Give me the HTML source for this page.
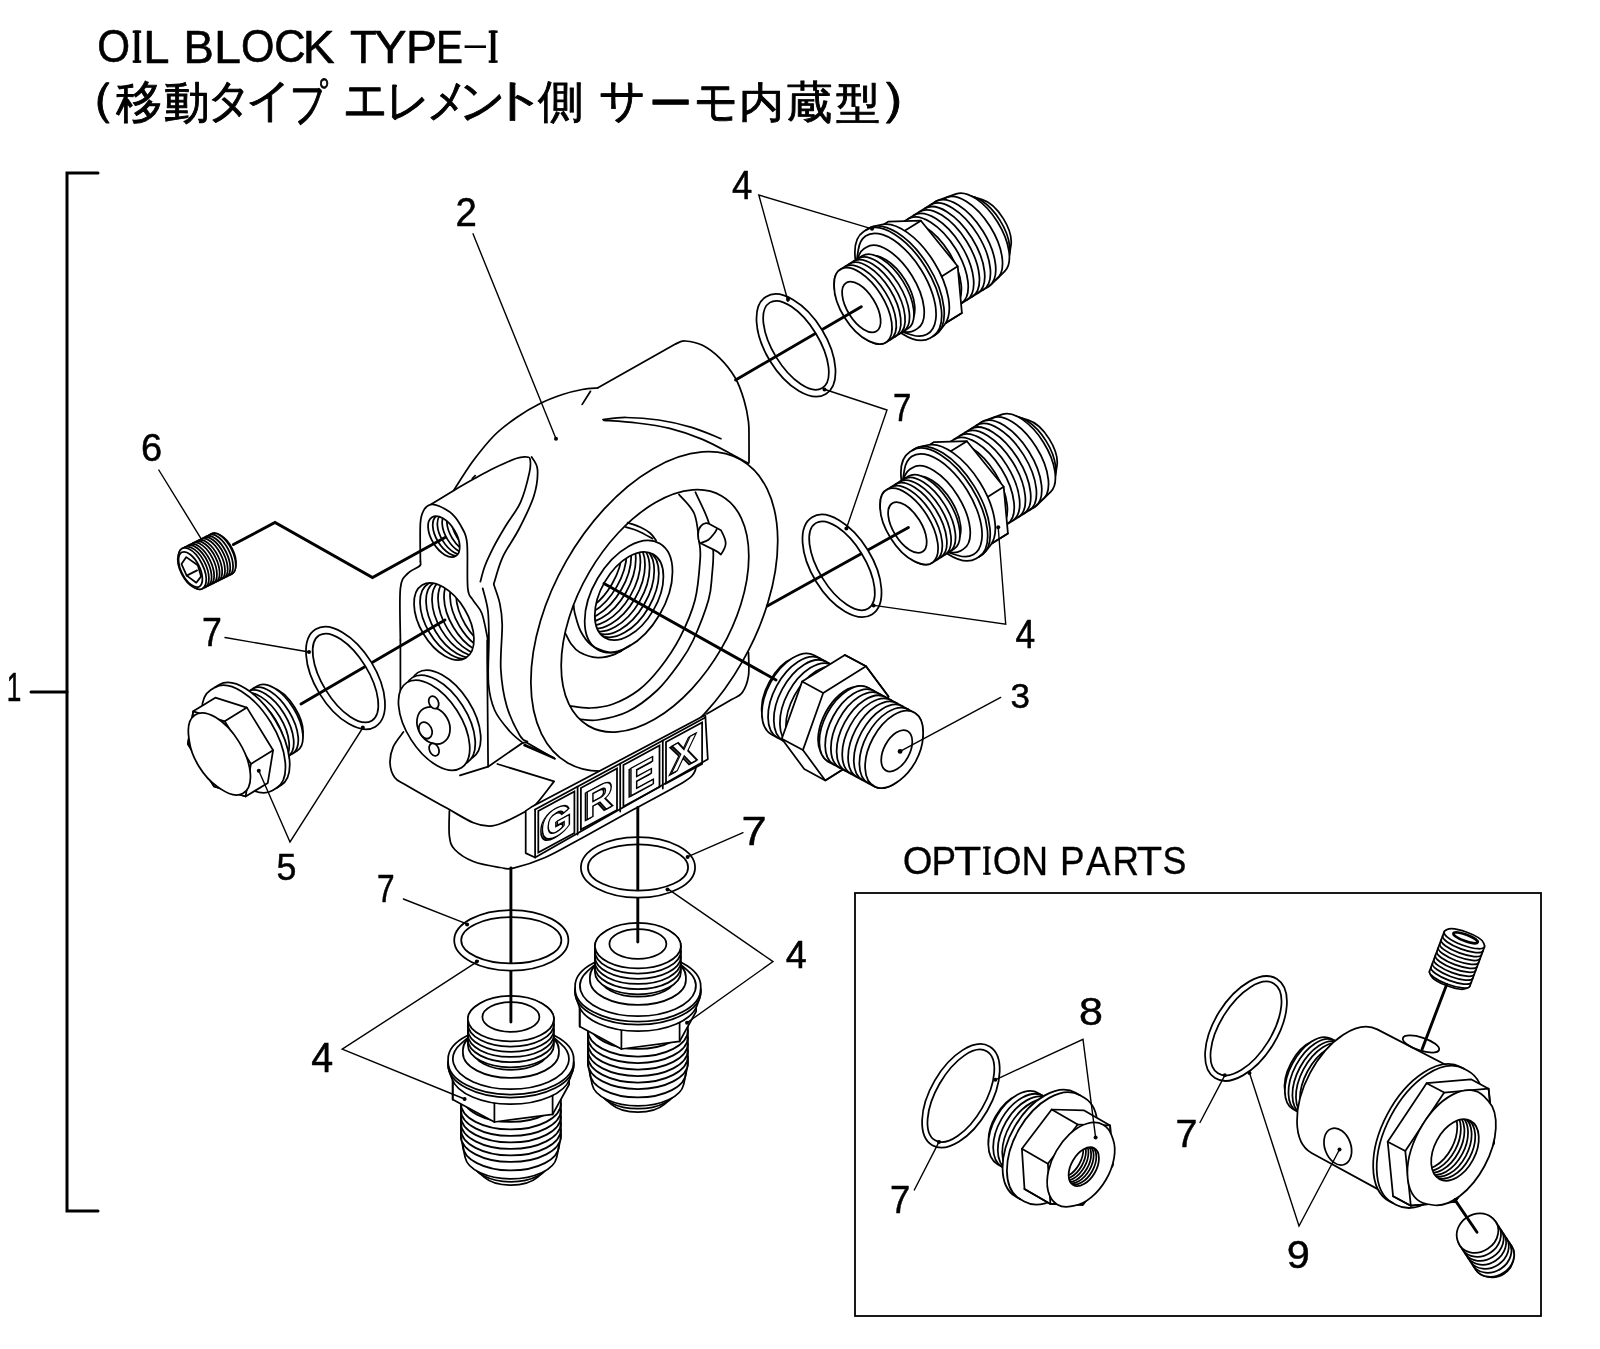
<!DOCTYPE html>
<html><head><meta charset="utf-8"><style>
html,body{margin:0;padding:0;background:#fff;width:1600px;height:1349px;overflow:hidden}
svg{position:absolute;left:0;top:0;will-change:transform}
.j{position:absolute;font-family:"Liberation Sans",sans-serif;color:#000;white-space:nowrap;line-height:1}
</style></head><body>

<svg width="1600" height="1349" viewBox="0 0 1600 1349" stroke-linecap="round">
<path d="M98 173 L67 173 L67 1211 L98 1211" fill="none" stroke="#000" stroke-width="3" stroke-linejoin="miter" />
<path d="M31 692 L67 692" fill="none" stroke="#000" stroke-width="3" stroke-linejoin="miter" />
<text x="0" y="0" transform="matrix(0.1308 0 0 0.1993 6.8 701.2)" font-family="Liberation Sans" font-size="200" font-weight="normal" stroke="#000" stroke-width="3" stroke-linejoin="round">1</text>
<rect x="855" y="893" width="686" height="423" fill="none" stroke="#000" stroke-width="1.8"/>
<text x="0" y="0" transform="matrix(0.1912 0 0 0.1979 902.7 874.3)" font-family="Liberation Sans" font-size="200" font-weight="normal" stroke="#000" stroke-width="1.5" stroke-linejoin="round">O</text>
<text x="0" y="0" transform="matrix(0.1841 0 0 0.2036 931.5 874.7)" font-family="Liberation Sans" font-size="200" font-weight="normal" stroke="#000" stroke-width="1.5" stroke-linejoin="round">P</text>
<text x="0" y="0" transform="matrix(0.2239 0 0 0.2036 953.9 874.7)" font-family="Liberation Sans" font-size="200" font-weight="normal" stroke="#000" stroke-width="1.4" stroke-linejoin="round">T</text>
<text x="0" y="0" transform="matrix(0.1847 0 0 0.1979 992.7 874.3)" font-family="Liberation Sans" font-size="200" font-weight="normal" stroke="#000" stroke-width="1.6" stroke-linejoin="round">O</text>
<text x="0" y="0" transform="matrix(0.1839 0 0 0.2036 1021.5 874.7)" font-family="Liberation Sans" font-size="200" font-weight="normal" stroke="#000" stroke-width="1.5" stroke-linejoin="round">N</text>
<text x="0" y="0" transform="matrix(0.1841 0 0 0.2036 1059.9 874.7)" font-family="Liberation Sans" font-size="200" font-weight="normal" stroke="#000" stroke-width="1.5" stroke-linejoin="round">P</text>
<text x="0" y="0" transform="matrix(0.1841 0 0 0.2051 1086.1 874.7)" font-family="Liberation Sans" font-size="200" font-weight="normal" stroke="#000" stroke-width="1.5" stroke-linejoin="round">A</text>
<text x="0" y="0" transform="matrix(0.1831 0 0 0.2036 1112.4 874.7)" font-family="Liberation Sans" font-size="200" font-weight="normal" stroke="#000" stroke-width="1.6" stroke-linejoin="round">R</text>
<text x="0" y="0" transform="matrix(0.2080 0 0 0.2036 1136.8 874.7)" font-family="Liberation Sans" font-size="200" font-weight="normal" stroke="#000" stroke-width="1.5" stroke-linejoin="round">T</text>
<text x="0" y="0" transform="matrix(0.1791 0 0 0.1979 1162.5 874.3)" font-family="Liberation Sans" font-size="200" font-weight="normal" stroke="#000" stroke-width="1.6" stroke-linejoin="round">S</text>
<rect x="985.2" y="846.6" width="3.4" height="28.1" fill="#000"/><rect x="983.1" y="846.6" width="7.5" height="2" fill="#000"/><rect x="983.1" y="872.7" width="7.5" height="2" fill="#000"/>
<path d="M454.2 489.7 C457.3 485 466.1 470.4 472.8 461.3 C479.6 452.2 487.4 442.3 494.7 435 C502 427.7 509 422.8 516.6 417.5 C524.2 412.2 533 407.1 540.6 403.3 C548.2 399.5 555.6 396.8 562.5 394.5 C569.4 392.2 576.4 390.6 582.2 389.5 C588 388.4 595 388.2 597.5 388" fill="none" stroke="#000" stroke-width="1.75"/>
<path d="M597.5 388 L676.3 343.6" fill="none" stroke="#000" stroke-width="1.75" stroke-linejoin="miter" />
<path d="M676.3 343.6 C677.8 343.2 680.6 340.7 685 341 C689.4 341.3 696.7 342.4 702.5 345.3 C708.3 348.2 714.5 352.9 720 358.4 C725.5 363.8 731.3 371.1 735.3 378 C739.3 384.9 741.8 392.7 744 400 C746.2 407.3 747.7 415.2 748.5 421.9 C749.3 428.6 748.9 433.2 749 440 C749.1 446.8 749 458.7 749 462.4" fill="none" stroke="#000" stroke-width="1.75"/>
<path d="M582.2 404.4 L590.5 391.3" fill="none" stroke="#000" stroke-width="1.75" stroke-linejoin="miter" />
<path d="M603 419.7 C606.8 419.3 616.7 417.4 626 417.5 C635.3 417.6 647.9 418.4 658.8 420 C669.7 421.6 681.2 424.3 691.6 427.4 C702 430.5 716.1 436.8 721 438.7" fill="none" stroke="#000" stroke-width="1.75"/>
<path d="M604 420.4 C609.5 420.8 626 421.7 637 423 C648 424.3 658.8 425.7 669.7 428.4 C680.6 431.1 692 435 702.5 439.4 C713 443.8 725.3 451 733 455 C740.7 459 745.9 462.1 748.5 463.5" fill="none" stroke="#000" stroke-width="1.75"/>
<ellipse cx="654.3" cy="611.4" rx="174.5" ry="101.4" transform="rotate(-60.3 654.3 611.4)" fill="none" stroke="#000" stroke-width="1.75"/>
<ellipse cx="655" cy="610.9" rx="132.9" ry="76.3" transform="rotate(-59.9 655 610.9)" fill="none" stroke="#000" stroke-width="1.75"/>
<path d="M400.4 640 C400.4 631.4 399.2 599.4 400.4 588.3 C401.6 577.2 404.6 577.1 407.8 573.4 C411 569.7 417.5 568 419.6 566 C421.8 564 420.3 562.3 420.4 561.6" fill="none" stroke="#000" stroke-width="1.75"/>
<path d="M420.4 561.6 C420.4 555.2 419.8 531.6 420.4 523 C421 514.4 422.4 512.8 424.1 509.7 C425.8 506.6 428.3 505.1 430.8 504.5 C433.3 503.9 435.3 504.4 438.9 506 C442.5 507.6 448.4 510.3 452.3 514.1 C456.2 517.9 460.1 524 462.6 529 C465.1 534 466.2 533.9 467.1 543.8 C468 553.7 466.8 578.9 467.8 588.3 C468.8 597.7 470.6 595.9 473 600.1 C475.4 604.3 479.4 606.9 481.9 613.5 C484.4 620.1 486.9 635.6 487.9 640" fill="none" stroke="#000" stroke-width="1.75"/>
<path d="M430.8 504.5 L453.8 490.4" fill="none" stroke="#000" stroke-width="1.75" stroke-linejoin="miter" />
<path d="M453.8 490.4 C457.2 488.4 467.8 482.2 474.5 478.5 C481.2 474.8 486.9 471.5 493.8 468.2 C500.7 464.9 510.6 460.4 516 458.5 C521.4 456.6 524 456.9 526.4 457 C528.8 457.1 529.6 456.7 530.1 459.3 C530.6 461.9 531 465.4 529.4 472.6 C527.8 479.8 524.5 493.4 520.5 502.3 C516.5 511.2 510.1 518.6 505.6 526 C501.2 533.4 497.2 540 493.8 546.7 C490.4 553.4 487.1 560.2 484.9 566 C482.7 571.8 481.1 579 480.4 581.6" fill="none" stroke="#000" stroke-width="1.75"/>
<path d="M482.7 588.3 C483.6 592 486.8 602 487.9 610.5 C488.9 619 488.8 627.1 488.9 639.3 C489 651.5 487.5 671.9 488.5 683.8 C489.5 695.7 491.3 702.6 494.8 710.5 C498.3 718.4 505 725.8 509.7 731.2 C514.4 736.6 520.8 741.1 523 743.1" fill="none" stroke="#000" stroke-width="1.75"/>
<path d="M531.6 457 C532.6 459.1 537.1 463.1 537.5 469.6 C537.9 476.2 536.9 486.4 533.8 496.3 C530.7 506.2 524.2 518.9 519 529 C513.8 539.1 506.9 548 502.7 557.1 C498.5 566.2 495.3 579.3 493.8 583.8" fill="none" stroke="#000" stroke-width="1.75"/>
<path d="M493.8 584.6 C494.8 587.7 498.3 596.5 499.7 603.1 C501.1 609.8 502 613.5 502.2 624.5 C502.4 635.5 500.1 655.4 500.8 669 C501.6 682.6 503.5 694.9 506.7 706 C509.9 717.1 516.5 729.8 520 735.7 C523.5 741.6 526.2 740.6 527.4 741.6" fill="none" stroke="#000" stroke-width="1.75"/>
<path d="M472.3 478.5 L475.2 475.6" fill="none" stroke="#000" stroke-width="1.75" stroke-linejoin="miter" />
<path d="M679 494.5 C681.5 497.7 690.9 505.8 694.2 513.5 C697.5 521.2 698 533.3 699 540.8 C700 548.3 700.9 548.7 700.2 558.6 C699.5 568.5 698.4 586.9 695 600 C691.6 613.1 685.8 626.1 680 637.4 C674.2 648.7 666.9 659.2 660 668 C653.1 676.8 646.7 684 638.8 690 C630.9 696 620.6 701.3 612.5 704.3 C604.4 707.3 597.1 707.8 590 708 C582.9 708.2 573.2 706.2 569.8 705.8" fill="none" stroke="#000" stroke-width="1.75"/>
<path d="M695.4 492.2 C697.6 497.1 705.5 512.1 708.5 521.8 C711.5 531.5 712.6 541.4 713.2 550.3 C713.8 559.2 712.8 566.7 712 575 C711.2 583.3 711.6 589.2 708.5 600 C705.4 610.8 698 629.6 693.3 640 C688.5 650.4 686 654 680 662.3 C674 670.6 666.2 681.8 657.5 690 C648.8 698.2 637.5 706.8 627.5 711.8 C617.5 716.8 605.4 718.8 597.5 720 C589.6 721.2 583.2 719.4 580.3 719.3" fill="none" stroke="#000" stroke-width="1.75"/>
<path d="M565.4 633.3 C566.3 635 568.4 640.2 570.8 643.4 C573.2 646.6 575.3 649.9 579.7 652.3 C584.1 654.7 591.5 657.3 597.4 657.6 C603.3 657.9 609.8 656.2 615.2 654.1 C620.6 652 627.5 646.7 630 645.2" fill="none" stroke="#000" stroke-width="1.75"/>
<path d="M573.7 605.4 C573.9 606.8 573.7 609.4 574.9 613.7 C576.1 618.1 578 626.2 580.8 631.5 C583.6 636.8 586.8 641.7 591.5 645.2 C596.2 648.7 604.3 651.3 609.3 652.3 C614.2 653.3 619.2 651.3 621.2 651.1" fill="none" stroke="#000" stroke-width="1.75"/>
<path d="M627.6 522.7 C629.7 523.4 636.3 525.3 640 527 C643.7 528.7 647.3 530.8 650 533 C652.7 535.2 655.1 539.2 656.1 540.5" fill="none" stroke="#000" stroke-width="1.75"/>
<path d="M625.8 527.1 C627.8 527.8 633.5 529.1 638 531 C642.5 532.9 650.1 537.4 652.5 538.7" fill="none" stroke="#000" stroke-width="1.75"/>
<ellipse cx="628.6" cy="596.5" rx="61.4" ry="35.9" transform="rotate(-59.5 628.6 596.5)" fill="none" stroke="#000" stroke-width="1.75"/>
<clipPath id="c1"><ellipse cx="629.1" cy="596" rx="48.3" ry="28.1" transform="rotate(-59.9 629.1 596)"/></clipPath>
<g clip-path="url(#c1)">
<ellipse cx="624.5" cy="593.1" rx="48.3" ry="28.1" transform="rotate(-59.9 624.5 593.1)" fill="none" stroke="#000" stroke-width="1.75"/>
<ellipse cx="619.9" cy="590.2" rx="48.3" ry="28.1" transform="rotate(-59.9 619.9 590.2)" fill="none" stroke="#000" stroke-width="1.75"/>
<ellipse cx="615.3" cy="587.3" rx="48.3" ry="28.1" transform="rotate(-59.9 615.3 587.3)" fill="none" stroke="#000" stroke-width="1.75"/>
<ellipse cx="610.7" cy="584.4" rx="48.3" ry="28.1" transform="rotate(-59.9 610.7 584.4)" fill="none" stroke="#000" stroke-width="1.75"/>
<ellipse cx="606.1" cy="581.5" rx="48.3" ry="28.1" transform="rotate(-59.9 606.1 581.5)" fill="none" stroke="#000" stroke-width="1.75"/>
<ellipse cx="601.5" cy="578.6" rx="48.3" ry="28.1" transform="rotate(-59.9 601.5 578.6)" fill="none" stroke="#000" stroke-width="1.75"/>
<ellipse cx="596.9" cy="575.7" rx="48.3" ry="28.1" transform="rotate(-59.9 596.9 575.7)" fill="none" stroke="#000" stroke-width="1.75"/>
<ellipse cx="592.3" cy="572.8" rx="48.3" ry="28.1" transform="rotate(-59.9 592.3 572.8)" fill="none" stroke="#000" stroke-width="1.75"/>
<ellipse cx="587.7" cy="569.9" rx="48.3" ry="28.1" transform="rotate(-59.9 587.7 569.9)" fill="none" stroke="#000" stroke-width="1.75"/>
</g>
<ellipse cx="629.1" cy="596" rx="48.3" ry="28.1" transform="rotate(-59.9 629.1 596)" fill="none" stroke="#000" stroke-width="1.75"/>
<path d="M699.6 542.7 C697.5 538 697.2 530 700.8 526.1 C702.5 524 704 523.2 706 523.1 C708 523 709 523.7 709 523.7 L720.9 530.2 C723.5 535 725.8 540 725.7 543.5 C725.6 546.5 724 550 720.9 554.6 C719 552.5 717.5 551.5 715 550.4 Z" fill="#fff" stroke="#000" stroke-width="1.75" stroke-linejoin="round"/>
<path d="M700.2 543.3 C701.6 542.7 706.1 541.4 708.5 539.7 C710.9 538 713 535 714.4 533.2 C715.8 531.4 716.4 529.8 716.8 529.1" fill="none" stroke="#000" stroke-width="1.75"/>
<path d="M748.5 652.5 C748.5 656.4 749.5 668.9 748.5 675.6 C747.5 682.3 745.1 688.5 742.3 692.5 C739.5 696.5 737.5 696 731.6 699.6 C725.7 703.2 710.9 711.5 706.7 713.9" fill="none" stroke="#000" stroke-width="1.75"/>
<clipPath id="c2"><ellipse cx="443.9" cy="536.6" rx="22.8" ry="12.3" transform="rotate(58.6 443.9 536.6)"/></clipPath>
<g clip-path="url(#c2)">
<ellipse cx="448.6" cy="535.4" rx="22.8" ry="12.3" transform="rotate(58.6 448.6 535.4)" fill="none" stroke="#000" stroke-width="1.75"/>
<ellipse cx="453.2" cy="534.2" rx="22.8" ry="12.3" transform="rotate(58.6 453.2 534.2)" fill="none" stroke="#000" stroke-width="1.75"/>
<ellipse cx="458" cy="533" rx="22.8" ry="12.3" transform="rotate(58.6 458 533)" fill="none" stroke="#000" stroke-width="1.75"/>
<ellipse cx="462.7" cy="531.8" rx="22.8" ry="12.3" transform="rotate(58.6 462.7 531.8)" fill="none" stroke="#000" stroke-width="1.75"/>
<ellipse cx="467.4" cy="530.6" rx="22.8" ry="12.3" transform="rotate(58.6 467.4 530.6)" fill="none" stroke="#000" stroke-width="1.75"/>
</g>
<ellipse cx="443.9" cy="536.6" rx="22.8" ry="12.3" transform="rotate(58.6 443.9 536.6)" fill="none" stroke="#000" stroke-width="1.75"/>
<clipPath id="c3"><ellipse cx="444" cy="621.5" rx="42.5" ry="24" transform="rotate(59.2 444 621.5)"/></clipPath>
<g clip-path="url(#c3)">
<ellipse cx="450" cy="620.2" rx="42.5" ry="24" transform="rotate(59.2 450 620.2)" fill="none" stroke="#000" stroke-width="1.75"/>
<ellipse cx="456" cy="618.9" rx="42.5" ry="24" transform="rotate(59.2 456 618.9)" fill="none" stroke="#000" stroke-width="1.75"/>
<ellipse cx="462" cy="617.6" rx="42.5" ry="24" transform="rotate(59.2 462 617.6)" fill="none" stroke="#000" stroke-width="1.75"/>
<ellipse cx="468" cy="616.3" rx="42.5" ry="24" transform="rotate(59.2 468 616.3)" fill="none" stroke="#000" stroke-width="1.75"/>
<ellipse cx="474" cy="615" rx="42.5" ry="24" transform="rotate(59.2 474 615)" fill="none" stroke="#000" stroke-width="1.75"/>
<ellipse cx="480" cy="613.7" rx="42.5" ry="24" transform="rotate(59.2 480 613.7)" fill="none" stroke="#000" stroke-width="1.75"/>
<ellipse cx="486" cy="612.4" rx="42.5" ry="24" transform="rotate(59.2 486 612.4)" fill="none" stroke="#000" stroke-width="1.75"/>
</g>
<ellipse cx="444" cy="621.5" rx="42.5" ry="24" transform="rotate(59.2 444 621.5)" fill="none" stroke="#000" stroke-width="1.75"/>
<path d="M487.2 640 L487.2 660 L488.1 766.7" fill="none" stroke="#000" stroke-width="1.75" stroke-linejoin="miter" />
<path d="M400.4 640 L400.4 690" fill="none" stroke="#000" stroke-width="1.75" stroke-linejoin="miter" />
<path d="M403.4 732 C401.7 734.5 395.5 741.6 393.3 746.7 C391.1 751.8 389.8 757.6 390 762.7 C390.2 767.8 391.9 773.6 394.7 777.4 C397.5 781.2 398 780.3 406.7 785.4 C415.4 790.5 435.6 801.9 446.7 808.1 C457.8 814.3 466.3 819.8 473.4 822.8 C480.5 825.8 484.5 826.1 489.4 826.1 C494.3 826.1 496.6 825.3 502.8 822.8 C509 820.2 521.2 813.9 526.8 810.8 C532.3 807.7 531.6 808.9 536.1 804.1 C540.6 799.3 550.6 785.8 553.5 782.1" fill="none" stroke="#000" stroke-width="1.75"/>
<path d="M497.4 764 L554.1 781.4" fill="none" stroke="#000" stroke-width="1.75" stroke-linejoin="miter" />
<path d="M460 775.4 L488.1 766.7 L522.8 742.7 L526.8 742.7 L554.8 758.7" fill="none" stroke="#000" stroke-width="1.75" stroke-linejoin="miter" />
<path d="M524.1 745.4 L554.8 758.7" fill="none" stroke="#000" stroke-width="1.75" stroke-linejoin="miter" />
<path d="M524.5 744.6 C527.1 745.7 535.1 748.8 540 751 C544.9 753.2 551.8 756.8 554.1 757.9" fill="none" stroke="#000" stroke-width="1.75"/>
<path d="M449.4 810.8 C449.4 815 448.5 829.6 449.4 836.1 C450.3 842.6 450.7 845.3 454.7 849.5 C458.7 853.7 465.8 858.5 473.4 861.5 C481 864.5 493.4 866.4 500.1 867.5 C506.8 868.6 505.9 869.8 513.4 868.1 C520.9 866.4 533.6 862.6 545.2 857.5 C556.8 852.4 568.3 845.4 583 837.4 C597.7 829.4 616.6 818.9 633.4 809.6 C650.2 800.4 673.7 788 683.8 781.9 C693.9 775.8 691.8 775.8 693.9 773.1 C696 770.4 696 766.8 696.4 765.5" fill="none" stroke="#000" stroke-width="1.75"/>
<ellipse cx="445.1" cy="715.2" rx="50.6" ry="27.2" transform="rotate(57.3 445.1 715.2)" fill="#fff" stroke="#000" stroke-width="1.75"/>
<ellipse cx="439.6" cy="720.2" rx="50.6" ry="27.2" transform="rotate(57.3 439.6 720.2)" fill="#fff" stroke="#000" stroke-width="1.75"/>
<ellipse cx="434.1" cy="725.2" rx="50.6" ry="27.2" transform="rotate(57.3 434.1 725.2)" fill="#fff" stroke="#000" stroke-width="1.75"/>
<ellipse cx="433.5" cy="725.5" rx="15.5" ry="19.5" transform="rotate(-30 433.5 725.5)" fill="none" stroke="#000" stroke-width="1.75"/>
<ellipse cx="433.7" cy="702.4" rx="4.6" ry="6.6" transform="rotate(-25 433.7 702.4)" fill="#fff" stroke="#000" stroke-width="1.75"/>
<ellipse cx="425.5" cy="730.3" rx="6.2" ry="8.6" transform="rotate(-25 425.5 730.3)" fill="#fff" stroke="#000" stroke-width="1.75"/>
<ellipse cx="434.1" cy="749.6" rx="4.6" ry="6.6" transform="rotate(-25 434.1 749.6)" fill="#fff" stroke="#000" stroke-width="1.75"/>
<path d="M525.7 810.9 L531.3 807.1 L705.3 715.1 L707.8 759.2 L535.1 857.5 L525.7 853.1 Z" fill="#fff" stroke="#000" stroke-width="1.75" stroke-linejoin="round"/>
<path d="M535.1 809.6 L535.1 857.5" fill="none" stroke="#000" stroke-width="1.75" stroke-linejoin="miter" />
<path d="M535.1 809.6 L705.3 717.6" fill="none" stroke="#000" stroke-width="1.75" stroke-linejoin="miter" />
<path d="M538.3 811.1 L574.4 791.5 L574.4 833 L538.3 852.6 Z" fill="none" stroke="#000" stroke-width="1.75" />
<path d="M580.9 788.1 L617 768.5 L617 810 L580.9 829.6 Z" fill="none" stroke="#000" stroke-width="1.75" />
<path d="M577.6 786.6 L577.6 834.5" fill="none" stroke="#000" stroke-width="1.75" stroke-linejoin="miter" />
<path d="M623.4 765.1 L659.5 745.5 L659.5 787 L623.4 806.6 Z" fill="none" stroke="#000" stroke-width="1.75" />
<path d="M620.2 763.6 L620.2 811.5" fill="none" stroke="#000" stroke-width="1.75" stroke-linejoin="miter" />
<path d="M666 742.1 L702.1 722.5 L702.1 764 L666 783.6 Z" fill="none" stroke="#000" stroke-width="1.75" />
<path d="M662.8 740.6 L662.8 788.5" fill="none" stroke="#000" stroke-width="1.75" stroke-linejoin="miter" />
<text x="0" y="0" transform="translate(554.8 823.3) skewY(-28.4)" font-family="Liberation Sans" font-weight="bold" font-size="40" text-anchor="middle" dy="14" fill="#fff" stroke="#000" stroke-width="1.5">G</text>
<text x="0" y="0" transform="translate(556.4 822.1) skewY(-28.4)" font-family="Liberation Sans" font-weight="bold" font-size="40" text-anchor="middle" dy="14" fill="#fff" stroke="#000" stroke-width="1.5">G</text>
<text x="0" y="0" transform="translate(597.3 800.3) skewY(-28.4)" font-family="Liberation Sans" font-weight="bold" font-size="40" text-anchor="middle" dy="14" fill="#fff" stroke="#000" stroke-width="1.5">R</text>
<text x="0" y="0" transform="translate(598.9 799.1) skewY(-28.4)" font-family="Liberation Sans" font-weight="bold" font-size="40" text-anchor="middle" dy="14" fill="#fff" stroke="#000" stroke-width="1.5">R</text>
<text x="0" y="0" transform="translate(639.9 777.3) skewY(-28.4)" font-family="Liberation Sans" font-weight="bold" font-size="40" text-anchor="middle" dy="14" fill="#fff" stroke="#000" stroke-width="1.5">E</text>
<text x="0" y="0" transform="translate(641.5 776.1) skewY(-28.4)" font-family="Liberation Sans" font-weight="bold" font-size="40" text-anchor="middle" dy="14" fill="#fff" stroke="#000" stroke-width="1.5">E</text>
<text x="0" y="0" transform="translate(682.4 754.3) skewY(-28.4)" font-family="Liberation Sans" font-weight="bold" font-size="40" text-anchor="middle" dy="14" fill="#fff" stroke="#000" stroke-width="1.5">X</text>
<text x="0" y="0" transform="translate(684 753.1) skewY(-28.4)" font-family="Liberation Sans" font-weight="bold" font-size="40" text-anchor="middle" dy="14" fill="#fff" stroke="#000" stroke-width="1.5">X</text>
<path d="M1010.94 245.43 L1008.38 261.41 A45 22.05 58 1 1 966.81 194.88 L982.3 199.59 A31 15.19 58 0 1 1010.94 245.43 Z" fill="#fff" stroke="#000" stroke-width="1.75" />
<path d="M1004.5 262.39 A38 18.62 58 0 0 964.23 197.94" fill="none" stroke="#000" stroke-width="1.75" />
<path d="M1004.65 271.44 L990.82 284.78 A50 24.5 58 1 1 938.11 200.42 L956.16 193.84 A46 22.54 58 0 1 1004.65 271.44 Z" fill="#fff" stroke="#000" stroke-width="1.75" />
<path d="M995.81 279.61 A48 23.52 58 0 0 944.94 198.2" fill="none" stroke="#000" stroke-width="1.75" />
<path d="M988.81 286.34 L955.74 307.01 A50 24.5 58 0 1 902.75 222.2 L935.82 201.54 A50 24.5 58 0 1 988.81 286.34 Z" fill="#fff" stroke="#000" stroke-width="1.75" />
<path d="M983.3 289.79 A50 24.5 58 0 0 930.31 204.98" fill="none" stroke="#000" stroke-width="1.75" />
<path d="M977.79 293.23 A50 24.5 58 0 0 924.8 208.43" fill="none" stroke="#000" stroke-width="1.75" />
<path d="M972.28 296.68 A50 24.5 58 0 0 919.28 211.87" fill="none" stroke="#000" stroke-width="1.75" />
<path d="M966.76 300.12 A50 24.5 58 0 0 913.77 215.32" fill="none" stroke="#000" stroke-width="1.75" />
<path d="M961.25 303.56 A50 24.5 58 0 0 908.26 218.76" fill="none" stroke="#000" stroke-width="1.75" />
<path d="M954.68 305.31 L950.44 307.96 A48 23.52 58 0 1 899.57 226.55 L903.81 223.9 A48 23.52 58 0 1 954.68 305.31 Z" fill="#fff" stroke="#000" stroke-width="1.75" />
<path d="M872 231.7 L888.1 221.7 L920.9 220.7 L957.7 266.3 L961.9 312.9 L945.8 322.9 L913 323.9 L876.2 278.3Z" fill="#fff" stroke="#000" stroke-width="1.75" stroke-linejoin="round"/>
<path d="M945.8 322.9 L941.6 276.4 L904.7 230.8 L872 231.7 L876.2 278.3 L913 323.9Z" fill="none" stroke="#000" stroke-width="1.75" stroke-linejoin="round"/>
<path d="M945.8 322.9 L961.9 312.9" fill="none" stroke="#000" stroke-width="1.75" stroke-linejoin="miter" />
<path d="M941.6 276.4 L957.7 266.3" fill="none" stroke="#000" stroke-width="1.75" stroke-linejoin="miter" />
<path d="M904.7 230.8 L920.9 220.7" fill="none" stroke="#000" stroke-width="1.75" stroke-linejoin="miter" />
<path d="M944.49 324.78 L939.37 331.24 A62.8 30.77 58 1 1 873.8 226.3 L881.84 224.52 A60 29.4 58 0 1 944.49 324.78 Z" fill="#fff" stroke="#000" stroke-width="1.75" />
<path d="M935.39 334.82 L930.3 338 A62.8 30.77 58 0 1 863.74 231.49 L868.83 228.31 A62.8 30.77 58 0 1 935.39 334.82 Z" fill="#fff" stroke="#000" stroke-width="1.75" />
<path d="M932.84 336.41 A62.8 30.77 58 0 0 866.28 229.9" fill="none" stroke="#000" stroke-width="1.75" />
<path d="M912 335 L905.36 332.98 A52 25.48 58 0 1 857.32 256.1 L858.42 249.25 A58 28.42 58 1 1 912 335 Z" fill="#fff" stroke="#000" stroke-width="1.75" />
<path d="M917.37 328.63 L914.82 330.22 A48 23.52 58 0 1 863.95 248.81 L866.49 247.22 A48 23.52 58 0 1 917.37 328.63 Z" fill="#fff" stroke="#000" stroke-width="1.75" />
<path d="M909.52 321.74 L905.28 324.39 A38 18.62 58 0 1 865.01 259.94 L869.25 257.29 A38 18.62 58 0 1 909.52 321.74 Z" fill="#fff" stroke="#000" stroke-width="1.75" />
<path d="M907.93 328.63 L885.88 342.41 A43 21.07 58 0 1 840.31 269.47 L862.36 255.7 A43 21.07 58 0 1 907.93 328.63 Z" fill="#fff" stroke="#000" stroke-width="1.75" />
<path d="M903.52 331.38 A43 21.07 58 0 0 857.95 258.45" fill="none" stroke="#000" stroke-width="1.75" />
<path d="M899.11 334.14 A43 21.07 58 0 0 853.54 261.21" fill="none" stroke="#000" stroke-width="1.75" />
<path d="M894.7 336.9 A43 21.07 58 0 0 849.13 263.96" fill="none" stroke="#000" stroke-width="1.75" />
<path d="M890.29 339.65 A43 21.07 58 0 0 844.72 266.72" fill="none" stroke="#000" stroke-width="1.75" />
<path d="M870.16 341.6 L868.06 340.59 A40.5 19.84 58 0 1 834.13 286.29 L834.14 283.95 A43 21.07 58 1 1 870.16 341.6 Z" fill="#fff" stroke="#000" stroke-width="1.75" />
<path d="M876.5 331.17 A28.5 13.96 58 1 1 846.3 282.83 A28.5 13.96 58 1 1 876.5 331.17 Z" fill="none" stroke="#000" stroke-width="1.75" />
<path d="M1056.94 465.93 L1054.38 481.91 A45 22.05 58 1 1 1012.81 415.38 L1028.3 420.09 A31 15.19 58 0 1 1056.94 465.93 Z" fill="#fff" stroke="#000" stroke-width="1.75" />
<path d="M1050.5 482.89 A38 18.62 58 0 0 1010.23 418.44" fill="none" stroke="#000" stroke-width="1.75" />
<path d="M1050.65 491.94 L1036.82 505.28 A50 24.5 58 1 1 984.11 420.92 L1002.16 414.34 A46 22.54 58 0 1 1050.65 491.94 Z" fill="#fff" stroke="#000" stroke-width="1.75" />
<path d="M1041.81 500.11 A48 23.52 58 0 0 990.94 418.7" fill="none" stroke="#000" stroke-width="1.75" />
<path d="M1034.81 506.84 L1001.74 527.51 A50 24.5 58 0 1 948.75 442.7 L981.82 422.04 A50 24.5 58 0 1 1034.81 506.84 Z" fill="#fff" stroke="#000" stroke-width="1.75" />
<path d="M1029.3 510.29 A50 24.5 58 0 0 976.31 425.48" fill="none" stroke="#000" stroke-width="1.75" />
<path d="M1023.79 513.73 A50 24.5 58 0 0 970.8 428.93" fill="none" stroke="#000" stroke-width="1.75" />
<path d="M1018.28 517.18 A50 24.5 58 0 0 965.28 432.37" fill="none" stroke="#000" stroke-width="1.75" />
<path d="M1012.76 520.62 A50 24.5 58 0 0 959.77 435.82" fill="none" stroke="#000" stroke-width="1.75" />
<path d="M1007.25 524.06 A50 24.5 58 0 0 954.26 439.26" fill="none" stroke="#000" stroke-width="1.75" />
<path d="M1000.68 525.81 L996.44 528.46 A48 23.52 58 0 1 945.57 447.05 L949.81 444.4 A48 23.52 58 0 1 1000.68 525.81 Z" fill="#fff" stroke="#000" stroke-width="1.75" />
<path d="M918 452.2 L934.1 442.1 L966.9 441.2 L1003.7 486.8 L1007.9 533.4 L991.8 543.4 L959 544.4 L922.2 498.8Z" fill="#fff" stroke="#000" stroke-width="1.75" stroke-linejoin="round"/>
<path d="M991.8 543.4 L987.6 496.9 L950.7 451.3 L918 452.2 L922.2 498.8 L959 544.4Z" fill="none" stroke="#000" stroke-width="1.75" stroke-linejoin="round"/>
<path d="M991.8 543.4 L1007.9 533.4" fill="none" stroke="#000" stroke-width="1.75" stroke-linejoin="miter" />
<path d="M987.6 496.9 L1003.7 486.8" fill="none" stroke="#000" stroke-width="1.75" stroke-linejoin="miter" />
<path d="M950.7 451.3 L966.9 441.2" fill="none" stroke="#000" stroke-width="1.75" stroke-linejoin="miter" />
<path d="M990.49 545.28 L985.37 551.74 A62.8 30.77 58 1 1 919.8 446.8 L927.84 445.02 A60 29.4 58 0 1 990.49 545.28 Z" fill="#fff" stroke="#000" stroke-width="1.75" />
<path d="M981.39 555.32 L976.3 558.5 A62.8 30.77 58 0 1 909.74 451.99 L914.83 448.81 A62.8 30.77 58 0 1 981.39 555.32 Z" fill="#fff" stroke="#000" stroke-width="1.75" />
<path d="M978.84 556.91 A62.8 30.77 58 0 0 912.28 450.4" fill="none" stroke="#000" stroke-width="1.75" />
<path d="M958 555.5 L951.36 553.48 A52 25.48 58 0 1 903.32 476.6 L904.42 469.75 A58 28.42 58 1 1 958 555.5 Z" fill="#fff" stroke="#000" stroke-width="1.75" />
<path d="M963.37 549.13 L960.82 550.72 A48 23.52 58 0 1 909.95 469.31 L912.49 467.72 A48 23.52 58 0 1 963.37 549.13 Z" fill="#fff" stroke="#000" stroke-width="1.75" />
<path d="M955.52 542.24 L951.28 544.89 A38 18.62 58 0 1 911.01 480.44 L915.25 477.79 A38 18.62 58 0 1 955.52 542.24 Z" fill="#fff" stroke="#000" stroke-width="1.75" />
<path d="M953.93 549.13 L931.88 562.91 A43 21.07 58 0 1 886.31 489.97 L908.36 476.2 A43 21.07 58 0 1 953.93 549.13 Z" fill="#fff" stroke="#000" stroke-width="1.75" />
<path d="M949.52 551.88 A43 21.07 58 0 0 903.95 478.95" fill="none" stroke="#000" stroke-width="1.75" />
<path d="M945.11 554.64 A43 21.07 58 0 0 899.54 481.71" fill="none" stroke="#000" stroke-width="1.75" />
<path d="M940.7 557.4 A43 21.07 58 0 0 895.13 484.46" fill="none" stroke="#000" stroke-width="1.75" />
<path d="M936.29 560.15 A43 21.07 58 0 0 890.72 487.22" fill="none" stroke="#000" stroke-width="1.75" />
<path d="M916.16 562.1 L914.06 561.09 A40.5 19.84 58 0 1 880.13 506.79 L880.14 504.45 A43 21.07 58 1 1 916.16 562.1 Z" fill="#fff" stroke="#000" stroke-width="1.75" />
<path d="M922.5 551.67 A28.5 13.96 58 1 1 892.3 503.33 A28.5 13.96 58 1 1 922.5 551.67 Z" fill="none" stroke="#000" stroke-width="1.75" />
<path d="M611.42 1104.38 L599.46 1094.17 A45 23.4 180 1 1 676.34 1094.17 L664.38 1104.38 A31 16.12 180 0 1 611.42 1104.38 Z" fill="#fff" stroke="#000" stroke-width="1.75" />
<path d="M599.9 1089 A38 19.76 180 0 0 675.9 1089" fill="none" stroke="#000" stroke-width="1.75" />
<path d="M592.18 1084.62 L588.2 1065.85 A50 26 180 1 1 687.6 1065.85 L683.62 1084.62 A46 23.92 180 0 1 592.18 1084.62 Z" fill="#fff" stroke="#000" stroke-width="1.75" />
<path d="M589.9 1072.5 A48 24.96 180 0 0 685.9 1072.5" fill="none" stroke="#000" stroke-width="1.75" />
<path d="M587.9 1063 L587.9 1024 A50 26 180 0 1 687.9 1024 L687.9 1063 A50 26 180 0 1 587.9 1063 Z" fill="#fff" stroke="#000" stroke-width="1.75" />
<path d="M587.9 1056.5 A50 26 180 0 0 687.9 1056.5" fill="none" stroke="#000" stroke-width="1.75" />
<path d="M587.9 1050 A50 26 180 0 0 687.9 1050" fill="none" stroke="#000" stroke-width="1.75" />
<path d="M587.9 1043.5 A50 26 180 0 0 687.9 1043.5" fill="none" stroke="#000" stroke-width="1.75" />
<path d="M587.9 1037 A50 26 180 0 0 687.9 1037" fill="none" stroke="#000" stroke-width="1.75" />
<path d="M587.9 1030.5 A50 26 180 0 0 687.9 1030.5" fill="none" stroke="#000" stroke-width="1.75" />
<path d="M589.9 1024 L589.9 1019 A48 24.96 180 0 1 685.9 1019 L685.9 1024 A48 24.96 180 0 1 589.9 1024 Z" fill="#fff" stroke="#000" stroke-width="1.75" />
<path d="M579.7 1007.5 L596.2 977.6 L654.4 970 L696.1 992.5 L696.1 1011.5 L679.6 1041.4 L621.4 1049 L579.7 1026.5Z" fill="#fff" stroke="#000" stroke-width="1.75" stroke-linejoin="round"/>
<path d="M579.7 1007.5 L621.4 1030 L679.6 1022.4 L696.1 992.5 L654.4 970 L596.2 977.6Z" fill="none" stroke="#000" stroke-width="1.75" stroke-linejoin="round"/>
<path d="M579.7 1007.5 L579.7 1026.5" fill="none" stroke="#000" stroke-width="1.75" stroke-linejoin="miter" />
<path d="M621.4 1030 L621.4 1049" fill="none" stroke="#000" stroke-width="1.75" stroke-linejoin="miter" />
<path d="M679.6 1022.4 L679.6 1041.4" fill="none" stroke="#000" stroke-width="1.75" stroke-linejoin="miter" />
<path d="M578.9 1005.68 L576.15 997.94 A62.8 32.66 180 1 1 699.65 997.94 L696.9 1005.68 A60 31.2 180 0 1 578.9 1005.68 Z" fill="#fff" stroke="#000" stroke-width="1.75" />
<path d="M575.1 992 L575.1 986 A62.8 32.66 180 0 1 700.7 986 L700.7 992 A62.8 32.66 180 0 1 575.1 992 Z" fill="#fff" stroke="#000" stroke-width="1.75" />
<path d="M575.1 989 A62.8 32.66 180 0 0 700.7 989" fill="none" stroke="#000" stroke-width="1.75" />
<path d="M588.36 970.32 L593.48 965.94 A52 27.04 180 0 1 682.32 965.94 L687.44 970.32 A58 30.16 180 1 1 588.36 970.32 Z" fill="#fff" stroke="#000" stroke-width="1.75" />
<path d="M589.9 980 L589.9 977 A48 24.96 180 0 1 685.9 977 L685.9 980 A48 24.96 180 0 1 589.9 980 Z" fill="#fff" stroke="#000" stroke-width="1.75" />
<path d="M599.9 977 L599.9 972 A38 19.76 180 0 1 675.9 972 L675.9 977 A38 19.76 180 0 1 599.9 977 Z" fill="#fff" stroke="#000" stroke-width="1.75" />
<path d="M594.9 972 L594.9 946 A43 22.36 180 0 1 680.9 946 L680.9 972 A43 22.36 180 0 1 594.9 972 Z" fill="#fff" stroke="#000" stroke-width="1.75" />
<path d="M594.9 966.8 A43 22.36 180 0 0 680.9 966.8" fill="none" stroke="#000" stroke-width="1.75" />
<path d="M594.9 961.6 A43 22.36 180 0 0 680.9 961.6" fill="none" stroke="#000" stroke-width="1.75" />
<path d="M594.9 956.4 A43 22.36 180 0 0 680.9 956.4" fill="none" stroke="#000" stroke-width="1.75" />
<path d="M594.9 951.2 A43 22.36 180 0 0 680.9 951.2" fill="none" stroke="#000" stroke-width="1.75" />
<path d="M605.22 931.47 L607.12 930.31 A40.5 21.06 180 0 1 668.68 930.31 L670.58 931.47 A43 22.36 180 1 1 605.22 931.47 Z" fill="#fff" stroke="#000" stroke-width="1.75" />
<path d="M609.4 944 A28.5 14.82 180 1 1 666.4 944 A28.5 14.82 180 1 1 609.4 944 Z" fill="none" stroke="#000" stroke-width="1.75" />
<path d="M484.42 1177.38 L472.46 1167.17 A45 23.4 180 1 1 549.34 1167.17 L537.38 1177.38 A31 16.12 180 0 1 484.42 1177.38 Z" fill="#fff" stroke="#000" stroke-width="1.75" />
<path d="M472.9 1162 A38 19.76 180 0 0 548.9 1162" fill="none" stroke="#000" stroke-width="1.75" />
<path d="M465.18 1157.62 L461.2 1138.85 A50 26 180 1 1 560.6 1138.85 L556.62 1157.62 A46 23.92 180 0 1 465.18 1157.62 Z" fill="#fff" stroke="#000" stroke-width="1.75" />
<path d="M462.9 1145.5 A48 24.96 180 0 0 558.9 1145.5" fill="none" stroke="#000" stroke-width="1.75" />
<path d="M460.9 1136 L460.9 1097 A50 26 180 0 1 560.9 1097 L560.9 1136 A50 26 180 0 1 460.9 1136 Z" fill="#fff" stroke="#000" stroke-width="1.75" />
<path d="M460.9 1129.5 A50 26 180 0 0 560.9 1129.5" fill="none" stroke="#000" stroke-width="1.75" />
<path d="M460.9 1123 A50 26 180 0 0 560.9 1123" fill="none" stroke="#000" stroke-width="1.75" />
<path d="M460.9 1116.5 A50 26 180 0 0 560.9 1116.5" fill="none" stroke="#000" stroke-width="1.75" />
<path d="M460.9 1110 A50 26 180 0 0 560.9 1110" fill="none" stroke="#000" stroke-width="1.75" />
<path d="M460.9 1103.5 A50 26 180 0 0 560.9 1103.5" fill="none" stroke="#000" stroke-width="1.75" />
<path d="M462.9 1097 L462.9 1092 A48 24.96 180 0 1 558.9 1092 L558.9 1097 A48 24.96 180 0 1 462.9 1097 Z" fill="#fff" stroke="#000" stroke-width="1.75" />
<path d="M452.7 1080.5 L469.2 1050.6 L527.4 1043 L569.1 1065.5 L569.1 1084.5 L552.6 1114.4 L494.4 1122 L452.7 1099.5Z" fill="#fff" stroke="#000" stroke-width="1.75" stroke-linejoin="round"/>
<path d="M452.7 1080.5 L494.4 1103 L552.6 1095.4 L569.1 1065.5 L527.4 1043 L469.2 1050.6Z" fill="none" stroke="#000" stroke-width="1.75" stroke-linejoin="round"/>
<path d="M452.7 1080.5 L452.7 1099.5" fill="none" stroke="#000" stroke-width="1.75" stroke-linejoin="miter" />
<path d="M494.4 1103 L494.4 1122" fill="none" stroke="#000" stroke-width="1.75" stroke-linejoin="miter" />
<path d="M552.6 1095.4 L552.6 1114.4" fill="none" stroke="#000" stroke-width="1.75" stroke-linejoin="miter" />
<path d="M451.9 1078.68 L449.15 1070.94 A62.8 32.66 180 1 1 572.65 1070.94 L569.9 1078.68 A60 31.2 180 0 1 451.9 1078.68 Z" fill="#fff" stroke="#000" stroke-width="1.75" />
<path d="M448.1 1065 L448.1 1059 A62.8 32.66 180 0 1 573.7 1059 L573.7 1065 A62.8 32.66 180 0 1 448.1 1065 Z" fill="#fff" stroke="#000" stroke-width="1.75" />
<path d="M448.1 1062 A62.8 32.66 180 0 0 573.7 1062" fill="none" stroke="#000" stroke-width="1.75" />
<path d="M461.36 1043.32 L466.48 1038.94 A52 27.04 180 0 1 555.32 1038.94 L560.44 1043.32 A58 30.16 180 1 1 461.36 1043.32 Z" fill="#fff" stroke="#000" stroke-width="1.75" />
<path d="M462.9 1053 L462.9 1050 A48 24.96 180 0 1 558.9 1050 L558.9 1053 A48 24.96 180 0 1 462.9 1053 Z" fill="#fff" stroke="#000" stroke-width="1.75" />
<path d="M472.9 1050 L472.9 1045 A38 19.76 180 0 1 548.9 1045 L548.9 1050 A38 19.76 180 0 1 472.9 1050 Z" fill="#fff" stroke="#000" stroke-width="1.75" />
<path d="M467.9 1045 L467.9 1019 A43 22.36 180 0 1 553.9 1019 L553.9 1045 A43 22.36 180 0 1 467.9 1045 Z" fill="#fff" stroke="#000" stroke-width="1.75" />
<path d="M467.9 1039.8 A43 22.36 180 0 0 553.9 1039.8" fill="none" stroke="#000" stroke-width="1.75" />
<path d="M467.9 1034.6 A43 22.36 180 0 0 553.9 1034.6" fill="none" stroke="#000" stroke-width="1.75" />
<path d="M467.9 1029.4 A43 22.36 180 0 0 553.9 1029.4" fill="none" stroke="#000" stroke-width="1.75" />
<path d="M467.9 1024.2 A43 22.36 180 0 0 553.9 1024.2" fill="none" stroke="#000" stroke-width="1.75" />
<path d="M478.22 1004.47 L480.12 1003.31 A40.5 21.06 180 0 1 541.68 1003.31 L543.58 1004.47 A43 22.36 180 1 1 478.22 1004.47 Z" fill="#fff" stroke="#000" stroke-width="1.75" />
<path d="M482.4 1017 A28.5 14.82 180 1 1 539.4 1017 A28.5 14.82 180 1 1 482.4 1017 Z" fill="none" stroke="#000" stroke-width="1.75" />
<path d="M793.47 657.86 L797.41 656.25 A44 25.08 -61.7 1 1 763.13 719.91 L762.31 715.74 A40 22.8 -61.7 0 1 793.47 657.86 Z" fill="#fff" stroke="#000" stroke-width="1.75" />
<path d="M814.19 655.24 L844.12 671.36 A45 25.65 -61.7 0 1 801.46 750.6 L771.52 734.48 A45 25.65 -61.7 0 1 814.19 655.24 Z" fill="#fff" stroke="#000" stroke-width="1.75" />
<path d="M820.17 658.46 A45 25.65 -61.7 0 0 777.51 737.7" fill="none" stroke="#000" stroke-width="1.75" />
<path d="M826.16 661.68 A45 25.65 -61.7 0 0 783.49 740.93" fill="none" stroke="#000" stroke-width="1.75" />
<path d="M832.15 664.91 A45 25.65 -61.7 0 0 789.48 744.15" fill="none" stroke="#000" stroke-width="1.75" />
<path d="M838.14 668.13 A45 25.65 -61.7 0 0 795.47 747.37" fill="none" stroke="#000" stroke-width="1.75" />
<path d="M781.8 738.7 L802.1 681.6 L844.9 654.9 L866 666.2 L888.5 696.5 L868.1 753.6 L825.3 780.4 L804.2 769Z" fill="#fff" stroke="#000" stroke-width="1.75" stroke-linejoin="round"/>
<path d="M866 666.2 L823.2 693 L802.9 750.1 L825.3 780.4 L868.1 753.6 L888.5 696.5Z" fill="none" stroke="#000" stroke-width="1.75" stroke-linejoin="round"/>
<path d="M866 666.2 L844.9 654.9" fill="none" stroke="#000" stroke-width="1.75" stroke-linejoin="miter" />
<path d="M823.2 693 L802.1 681.6" fill="none" stroke="#000" stroke-width="1.75" stroke-linejoin="miter" />
<path d="M802.9 750.1 L781.8 738.7" fill="none" stroke="#000" stroke-width="1.75" stroke-linejoin="miter" />
<path d="M855.59 686.62 L858.73 686.21 A42 23.94 -61.7 1 1 821.9 754.62 L820.51 751.77 A40 22.8 -61.7 0 1 855.59 686.62 Z" fill="#fff" stroke="#000" stroke-width="1.75" />
<path d="M868.24 687.75 L914.02 712.4 A42 23.94 -61.7 0 1 874.2 786.36 L828.41 761.71 A42 23.94 -61.7 0 1 868.24 687.75 Z" fill="#fff" stroke="#000" stroke-width="1.75" />
<path d="M873.96 690.83 A42 23.94 -61.7 0 0 834.14 764.79" fill="none" stroke="#000" stroke-width="1.75" />
<path d="M879.68 693.91 A42 23.94 -61.7 0 0 839.86 767.87" fill="none" stroke="#000" stroke-width="1.75" />
<path d="M885.4 696.99 A42 23.94 -61.7 0 0 845.58 770.95" fill="none" stroke="#000" stroke-width="1.75" />
<path d="M891.13 700.07 A42 23.94 -61.7 0 0 851.3 774.03" fill="none" stroke="#000" stroke-width="1.75" />
<path d="M896.85 703.15 A42 23.94 -61.7 0 0 857.03 777.11" fill="none" stroke="#000" stroke-width="1.75" />
<path d="M902.57 706.23 A42 23.94 -61.7 0 0 862.75 780.19" fill="none" stroke="#000" stroke-width="1.75" />
<path d="M908.3 709.32 A42 23.94 -61.7 0 0 868.47 783.28" fill="none" stroke="#000" stroke-width="1.75" />
<path d="M923.07 733.97 L922.95 736.86 A38 21.66 -61.7 0 1 899.54 780.35 L897.19 782.04 A42 23.94 -61.7 1 1 923.07 733.97 Z" fill="#fff" stroke="#000" stroke-width="1.75" />
<path d="M907.42 730.99 A22.5 12.82 -61.7 1 1 886.08 770.61 A22.5 12.82 -61.7 1 1 907.42 730.99 Z" fill="none" stroke="#000" stroke-width="1.75" />
<path d="M302.73 736.2 L301.99 740.72 A37 18.5 58.4 1 1 268.41 686.13 L272.78 687.51 A33 16.5 58.4 0 1 302.73 736.2 Z" fill="#fff" stroke="#000" stroke-width="1.75" />
<path d="M297.24 750.64 L269.98 767.41 A38 19 58.4 0 1 230.16 702.67 L257.41 685.91 A38 19 58.4 0 1 297.24 750.64 Z" fill="#fff" stroke="#000" stroke-width="1.75" />
<path d="M292.69 753.43 A38 19 58.4 0 0 252.87 688.7" fill="none" stroke="#000" stroke-width="1.75" />
<path d="M288.15 756.23 A38 19 58.4 0 0 248.33 691.5" fill="none" stroke="#000" stroke-width="1.75" />
<path d="M283.61 759.02 A38 19 58.4 0 0 243.79 694.29" fill="none" stroke="#000" stroke-width="1.75" />
<path d="M279.07 761.82 A38 19 58.4 0 0 239.24 697.09" fill="none" stroke="#000" stroke-width="1.75" />
<path d="M274.52 764.61 A38 19 58.4 0 0 234.7 699.88" fill="none" stroke="#000" stroke-width="1.75" />
<path d="M280.98 785.29 L272.47 790.53 A59 29.5 58.4 0 1 210.64 690.03 L219.15 684.79 A59 29.5 58.4 0 1 280.98 785.29 Z" fill="#fff" stroke="#000" stroke-width="1.75" />
<path d="M276.73 787.91 A59 29.5 58.4 0 0 214.9 687.41" fill="none" stroke="#000" stroke-width="1.75" />
<path d="M187.9 744 L193.2 711.3 L215.3 697.7 L246.9 707.6 L273.1 750.2 L267.8 782.9 L245.6 796.5 L214.1 786.5Z" fill="#fff" stroke="#000" stroke-width="1.75" stroke-linejoin="round"/>
<path d="M245.6 796.5 L250.9 763.9 L224.7 721.3 L193.2 711.3 L187.9 744 L214.1 786.5Z" fill="none" stroke="#000" stroke-width="1.75" stroke-linejoin="round"/>
<path d="M250.9 763.9 L273.1 750.2" fill="none" stroke="#000" stroke-width="1.75" stroke-linejoin="miter" />
<path d="M224.7 721.3 L246.9 707.6" fill="none" stroke="#000" stroke-width="1.75" stroke-linejoin="miter" />
<path d="M220.66 788.86 L217.09 786.39 A40 20 58.4 0 1 189.36 741.33 L188.77 737.03 A46 23 58.4 1 1 220.66 788.86 Z" fill="#fff" stroke="#000" stroke-width="1.75" />
<path d="M235.9 564.66 L235.65 567.02 A22.5 10.8 63.4 1 1 219.53 534.83 L221.57 536.05 A20 9.6 63.4 0 1 235.9 564.66 Z" fill="#fff" stroke="#000" stroke-width="1.75" />
<path d="M231.87 573.95 L202.36 588.72 A22.5 10.8 63.4 0 1 182.21 548.49 L211.72 533.71 A22.5 10.8 63.4 0 1 231.87 573.95 Z" fill="#fff" stroke="#000" stroke-width="1.75" />
<path d="M229.19 575.29 A22.5 10.8 63.4 0 0 209.04 535.05" fill="none" stroke="#000" stroke-width="1.75" />
<path d="M226.51 576.63 A22.5 10.8 63.4 0 0 206.36 536.4" fill="none" stroke="#000" stroke-width="1.75" />
<path d="M223.82 577.98 A22.5 10.8 63.4 0 0 203.67 537.74" fill="none" stroke="#000" stroke-width="1.75" />
<path d="M221.14 579.32 A22.5 10.8 63.4 0 0 200.99 539.08" fill="none" stroke="#000" stroke-width="1.75" />
<path d="M218.46 580.66 A22.5 10.8 63.4 0 0 198.31 540.43" fill="none" stroke="#000" stroke-width="1.75" />
<path d="M215.78 582.01 A22.5 10.8 63.4 0 0 195.63 541.77" fill="none" stroke="#000" stroke-width="1.75" />
<path d="M213.09 583.35 A22.5 10.8 63.4 0 0 192.94 543.11" fill="none" stroke="#000" stroke-width="1.75" />
<path d="M210.41 584.69 A22.5 10.8 63.4 0 0 190.26 544.46" fill="none" stroke="#000" stroke-width="1.75" />
<path d="M207.73 586.04 A22.5 10.8 63.4 0 0 187.58 545.8" fill="none" stroke="#000" stroke-width="1.75" />
<path d="M205.05 587.38 A22.5 10.8 63.4 0 0 184.9 547.14" fill="none" stroke="#000" stroke-width="1.75" />
<path d="M196.49 588.57 L194.33 587.7 A20.5 9.84 63.4 0 1 178.22 555.53 L178.81 553.28 A22.5 10.8 63.4 1 1 196.49 588.57 Z" fill="#fff" stroke="#000" stroke-width="1.75" />
<path d="M199.1 586.67 A19.2 9.22 63.4 1 1 181.9 552.33 A19.2 9.22 63.4 1 1 199.1 586.67 Z" fill="none" stroke="#000" stroke-width="1.75" />
<path d="M186.3 557.1 L181.5 564.1 L186.7 575.6 L196.3 582.7 L201.1 576.4 L197.8 565.2 Z" fill="none" stroke="#000" stroke-width="1.75" stroke-linejoin="round"/>
<path d="M186.7 575.6 L197.1 570.4" fill="none" stroke="#000" stroke-width="1.75" stroke-linejoin="miter" />
<path d="M1017.64 1095.23 L1021.46 1093.74 A40 24 -60 1 1 989.46 1149.16 L988.84 1145.11 A36 21.6 -60 0 1 1017.64 1095.23 Z" fill="#fff" stroke="#000" stroke-width="1.75" />
<path d="M1038.43 1093.14 L1066.14 1109.14 A41 24.6 -60 0 1 1025.14 1180.16 L997.43 1164.16 A41 24.6 -60 0 1 1038.43 1093.14 Z" fill="#fff" stroke="#000" stroke-width="1.75" />
<path d="M1043.05 1095.81 A41 24.6 -60 0 0 1002.05 1166.82" fill="none" stroke="#000" stroke-width="1.75" />
<path d="M1047.67 1098.48 A41 24.6 -60 0 0 1006.67 1169.49" fill="none" stroke="#000" stroke-width="1.75" />
<path d="M1052.29 1101.14 A41 24.6 -60 0 0 1011.29 1172.16" fill="none" stroke="#000" stroke-width="1.75" />
<path d="M1056.91 1103.81 A41 24.6 -60 0 0 1015.91 1174.82" fill="none" stroke="#000" stroke-width="1.75" />
<path d="M1061.53 1106.48 A41 24.6 -60 0 0 1020.53 1177.49" fill="none" stroke="#000" stroke-width="1.75" />
<path d="M1075.64 1092.69 L1084.31 1097.69 A60 36 -60 0 1 1024.31 1201.61 L1015.64 1196.61 A60 36 -60 0 1 1075.64 1092.69 Z" fill="#fff" stroke="#000" stroke-width="1.75" />
<path d="M1079.98 1095.19 A60 36 -60 0 0 1019.98 1199.11" fill="none" stroke="#000" stroke-width="1.75" />
<path d="M1021.9 1148.8 L1051.7 1109.5 L1084.2 1110.4 L1110.1 1125.4 L1112.7 1165.5 L1082.9 1204.8 L1050.4 1203.9 L1024.5 1188.9Z" fill="#fff" stroke="#000" stroke-width="1.75" stroke-linejoin="round"/>
<path d="M1110.1 1125.4 L1077.7 1124.5 L1047.9 1163.8 L1050.4 1203.9 L1082.9 1204.8 L1112.7 1165.5Z" fill="none" stroke="#000" stroke-width="1.75" stroke-linejoin="round"/>
<path d="M1077.7 1124.5 L1051.7 1109.5" fill="none" stroke="#000" stroke-width="1.75" stroke-linejoin="miter" />
<path d="M1047.9 1163.8 L1021.9 1148.8" fill="none" stroke="#000" stroke-width="1.75" stroke-linejoin="miter" />
<path d="M1050.4 1203.9 L1024.4 1188.9" fill="none" stroke="#000" stroke-width="1.75" stroke-linejoin="miter" />
<path d="M1111.58 1135.28 L1113 1139.2 A43 25.8 -60 0 1 1074.6 1205.71 L1070.5 1206.44 A46 27.6 -60 1 1 1111.58 1135.28 Z" fill="#fff" stroke="#000" stroke-width="1.75" />
<clipPath id="c4"><ellipse cx="1083.8" cy="1166.7" rx="21.2" ry="12.5" transform="rotate(-60 1083.8 1166.7)"/></clipPath>
<g clip-path="url(#c4)">
<ellipse cx="1081.2" cy="1165.2" rx="21.2" ry="12.5" transform="rotate(-60 1081.2 1165.2)" fill="none" stroke="#000" stroke-width="1.75"/>
<ellipse cx="1078.5" cy="1163.9" rx="21.2" ry="12.5" transform="rotate(-60 1078.5 1163.9)" fill="none" stroke="#000" stroke-width="1.75"/>
<ellipse cx="1076" cy="1162.5" rx="21.2" ry="12.5" transform="rotate(-60 1076 1162.5)" fill="none" stroke="#000" stroke-width="1.75"/>
<ellipse cx="1073.3" cy="1161.1" rx="21.2" ry="12.5" transform="rotate(-60 1073.3 1161.1)" fill="none" stroke="#000" stroke-width="1.75"/>
<ellipse cx="1070.8" cy="1159.7" rx="21.2" ry="12.5" transform="rotate(-60 1070.8 1159.7)" fill="none" stroke="#000" stroke-width="1.75"/>
<ellipse cx="1068.2" cy="1158.2" rx="21.2" ry="12.5" transform="rotate(-60 1068.2 1158.2)" fill="none" stroke="#000" stroke-width="1.75"/>
</g>
<ellipse cx="1083.8" cy="1166.7" rx="21.2" ry="12.5" transform="rotate(-60 1083.8 1166.7)" fill="none" stroke="#000" stroke-width="1.75"/>
<path d="M1312.35 1041.31 L1316.33 1039.67 A39 21.84 -62 1 1 1285.99 1096.73 L1285.13 1092.52 A35 19.6 -62 0 1 1312.35 1041.31 Z" fill="#fff" stroke="#000" stroke-width="1.75" />
<path d="M1330.74 1038.63 L1360.76 1054.59 A40 22.4 -62 0 1 1323.2 1125.23 L1293.18 1109.26 A40 22.4 -62 0 1 1330.74 1038.63 Z" fill="#fff" stroke="#000" stroke-width="1.75" />
<path d="M1334.49 1040.62 A40 22.4 -62 0 0 1296.94 1111.26" fill="none" stroke="#000" stroke-width="1.75" />
<path d="M1338.25 1042.62 A40 22.4 -62 0 0 1300.69 1113.25" fill="none" stroke="#000" stroke-width="1.75" />
<path d="M1342 1044.61 A40 22.4 -62 0 0 1304.44 1115.25" fill="none" stroke="#000" stroke-width="1.75" />
<path d="M1345.75 1046.61 A40 22.4 -62 0 0 1308.19 1117.24" fill="none" stroke="#000" stroke-width="1.75" />
<path d="M1349.5 1048.6 A40 22.4 -62 0 0 1311.95 1119.24" fill="none" stroke="#000" stroke-width="1.75" />
<path d="M1353.26 1050.6 A40 22.4 -62 0 0 1315.7 1121.24" fill="none" stroke="#000" stroke-width="1.75" />
<path d="M1357.01 1052.59 A40 22.4 -62 0 0 1319.45 1123.23" fill="none" stroke="#000" stroke-width="1.75" />
<path d="M1371.86 1040.11 A58 32.48 -62 1 1 1317.4 1142.53 A58 32.48 -62 1 1 1371.86 1040.11 Z" fill="#fff" stroke="#000" stroke-width="1.75" />
<path d="M1377.28 1029.4 L1458.1 1071.24 A71 39.76 -62 1 1 1391.43 1196.61 L1311.56 1153.01 A70 39.2 -62 0 1 1377.28 1029.4 Z" fill="#fff" stroke="#000" stroke-width="1.75" />
<path d="M1460.66 1066.93 L1467.72 1070.69 A76 42.56 -62 0 1 1396.36 1204.9 L1389.3 1201.14 A76 42.56 -62 0 1 1460.66 1066.93 Z" fill="#fff" stroke="#000" stroke-width="1.75" />
<path d="M1464.19 1068.81 A76 42.56 -62 0 0 1392.83 1203.02" fill="none" stroke="#000" stroke-width="1.75" />
<path d="M1387.7 1141.7 L1426.6 1083.2 L1471 1079.3 L1488.6 1088.7 L1494.1 1143.3 L1455.2 1201.8 L1410.8 1205.7 L1393.1 1196.3Z" fill="#fff" stroke="#000" stroke-width="1.75" stroke-linejoin="round"/>
<path d="M1488.6 1088.7 L1444.2 1092.6 L1405.3 1151.1 L1410.8 1205.7 L1455.2 1201.8 L1494.1 1143.3Z" fill="none" stroke="#000" stroke-width="1.75" stroke-linejoin="round"/>
<path d="M1444.2 1092.6 L1426.6 1083.2" fill="none" stroke="#000" stroke-width="1.75" stroke-linejoin="miter" />
<path d="M1405.3 1151.1 L1387.7 1141.7" fill="none" stroke="#000" stroke-width="1.75" stroke-linejoin="miter" />
<path d="M1410.8 1205.7 L1393.1 1196.3" fill="none" stroke="#000" stroke-width="1.75" stroke-linejoin="miter" />
<path d="M1484.02 1096.45 L1488.21 1100.9 A60 33.6 -62 0 1 1432.86 1204.99 L1426.83 1204.01 A62 34.72 -62 1 1 1484.02 1096.45 Z" fill="#fff" stroke="#000" stroke-width="1.75" />
<clipPath id="c5"><ellipse cx="1455" cy="1150" rx="33" ry="20.5" transform="rotate(-62 1455 1150)"/></clipPath>
<g clip-path="url(#c5)">
<ellipse cx="1451.4" cy="1148.1" rx="33" ry="20.5" transform="rotate(-62 1451.4 1148.1)" fill="none" stroke="#000" stroke-width="1.75"/>
<ellipse cx="1447.8" cy="1146.2" rx="33" ry="20.5" transform="rotate(-62 1447.8 1146.2)" fill="none" stroke="#000" stroke-width="1.75"/>
<ellipse cx="1444.2" cy="1144.3" rx="33" ry="20.5" transform="rotate(-62 1444.2 1144.3)" fill="none" stroke="#000" stroke-width="1.75"/>
<ellipse cx="1440.6" cy="1142.4" rx="33" ry="20.5" transform="rotate(-62 1440.6 1142.4)" fill="none" stroke="#000" stroke-width="1.75"/>
<ellipse cx="1437" cy="1140.5" rx="33" ry="20.5" transform="rotate(-62 1437 1140.5)" fill="none" stroke="#000" stroke-width="1.75"/>
<ellipse cx="1433.4" cy="1138.6" rx="33" ry="20.5" transform="rotate(-62 1433.4 1138.6)" fill="none" stroke="#000" stroke-width="1.75"/>
</g>
<ellipse cx="1455" cy="1150" rx="33" ry="20.5" transform="rotate(-62 1455 1150)" fill="none" stroke="#000" stroke-width="1.75"/>
<ellipse cx="1421" cy="1044" rx="19" ry="6.5" transform="rotate(18 1421 1044)" fill="none" stroke="#000" stroke-width="1.75"/>
<ellipse cx="1337.8" cy="1146.6" rx="13" ry="19" transform="rotate(-20 1337.8 1146.6)" fill="none" stroke="#000" stroke-width="1.75"/>
<path d="M1430.89 975.52 L1429.73 973.13 A21.5 6.02 200.4 1 1 1468.42 987.51 L1465.98 988.57 A19.5 5.46 200.4 0 1 1430.89 975.52 Z" fill="#fff" stroke="#000" stroke-width="1.75" />
<path d="M1429.51 971.25 L1444.15 931.88 A21.5 6.02 200.4 0 1 1484.45 946.87 L1469.81 986.23 A21.5 6.02 200.4 0 1 1429.51 971.25 Z" fill="#fff" stroke="#000" stroke-width="1.75" />
<path d="M1430.98 967.31 A21.5 6.02 200.4 0 0 1471.28 982.3" fill="none" stroke="#000" stroke-width="1.75" />
<path d="M1432.44 963.37 A21.5 6.02 200.4 0 0 1472.74 978.36" fill="none" stroke="#000" stroke-width="1.75" />
<path d="M1433.9 959.44 A21.5 6.02 200.4 0 0 1474.21 974.42" fill="none" stroke="#000" stroke-width="1.75" />
<path d="M1435.37 955.5 A21.5 6.02 200.4 0 0 1475.67 970.49" fill="none" stroke="#000" stroke-width="1.75" />
<path d="M1436.83 951.56 A21.5 6.02 200.4 0 0 1477.13 966.55" fill="none" stroke="#000" stroke-width="1.75" />
<path d="M1438.3 947.63 A21.5 6.02 200.4 0 0 1478.6 962.62" fill="none" stroke="#000" stroke-width="1.75" />
<path d="M1439.76 943.69 A21.5 6.02 200.4 0 0 1480.06 958.68" fill="none" stroke="#000" stroke-width="1.75" />
<path d="M1441.22 939.75 A21.5 6.02 200.4 0 0 1481.53 954.74" fill="none" stroke="#000" stroke-width="1.75" />
<path d="M1442.69 935.82 A21.5 6.02 200.4 0 0 1482.99 950.81" fill="none" stroke="#000" stroke-width="1.75" />
<path d="M1445.04 930.86 L1447.08 929.58 A20 5.6 200.4 0 1 1483.74 943.21 L1484.45 945.52 A21.5 6.02 200.4 1 1 1445.04 930.86 Z" fill="#fff" stroke="#000" stroke-width="1.75" />
<ellipse cx="1465.5" cy="937.8" rx="13" ry="3.2" transform="rotate(20.4 1465.5 937.8)" fill="none" stroke="#000" stroke-width="2.6"/>
<path d="M1490.16 1277.2 L1487.83 1276.91 A21.5 18.06 146.7 1 1 1513.49 1260.05 L1512.84 1262.31 A19 15.96 146.7 0 1 1490.16 1277.2 Z" fill="#fff" stroke="#000" stroke-width="1.75" />
<path d="M1475.75 1269.71 L1459.83 1245.48 A21.5 18.06 146.7 0 1 1495.77 1221.87 L1511.69 1246.11 A21.5 18.06 146.7 0 1 1475.75 1269.71 Z" fill="#fff" stroke="#000" stroke-width="1.75" />
<path d="M1473.1 1265.67 A21.5 18.06 146.7 0 0 1509.04 1242.07" fill="none" stroke="#000" stroke-width="1.75" />
<path d="M1470.44 1261.63 A21.5 18.06 146.7 0 0 1506.38 1238.03" fill="none" stroke="#000" stroke-width="1.75" />
<path d="M1467.79 1257.59 A21.5 18.06 146.7 0 0 1503.73 1233.99" fill="none" stroke="#000" stroke-width="1.75" />
<path d="M1465.14 1253.56 A21.5 18.06 146.7 0 0 1501.08 1229.95" fill="none" stroke="#000" stroke-width="1.75" />
<path d="M1462.48 1249.52 A21.5 18.06 146.7 0 0 1498.42 1225.91" fill="none" stroke="#000" stroke-width="1.75" />
<path d="M1458.15 1242.04 L1457.51 1240.18 A21 17.64 146.7 0 1 1491.83 1217.63 L1493.28 1218.96 A21.5 18.06 146.7 1 1 1458.15 1242.04 Z" fill="#fff" stroke="#000" stroke-width="1.75" />
<path d="M1446.7 984.4 L1422.2 1048.9" fill="none" stroke="#000" stroke-width="2.9" stroke-linejoin="miter" />
<path d="M1454.8 1199.6 L1477 1232.3" fill="none" stroke="#000" stroke-width="2.9" stroke-linejoin="miter" />
<path d="M233.4 544.5 L275 522.5 L372.5 577.5 L445 537.5" fill="none" stroke="#000" stroke-width="2.9" stroke-linejoin="miter" />
<path d="M735.6 380 L861.3 306.7" fill="none" stroke="#000" stroke-width="2.9" stroke-linejoin="miter" />
<path d="M767.3 605.9 L908.4 527.5" fill="none" stroke="#000" stroke-width="2.9" stroke-linejoin="miter" />
<path d="M301 704 L445 620" fill="none" stroke="#000" stroke-width="2.9" stroke-linejoin="miter" />
<path d="M604 583.4 L776 680" fill="none" stroke="#000" stroke-width="2.9" stroke-linejoin="miter" />
<path d="M510.9 868 L510.9 1022" fill="none" stroke="#000" stroke-width="2.9" stroke-linejoin="miter" />
<path d="M637.8 807.5 L637.8 942" fill="none" stroke="#000" stroke-width="2.9" stroke-linejoin="miter" />
<clipPath id="h6"><path d="M1057 771.8 L1483.5 510.8 L961.5 -342.2 L535 -81.2 Z"/></clipPath>
<path d="M825.97 393.93 A57.1 30.3 58.4 1 1 766.13 296.67 A57.1 30.3 58.4 1 1 825.97 393.93 Z M822.3 387.97 A50.1 23.09 58.4 1 1 769.8 302.63 A50.1 23.09 58.4 1 1 822.3 387.97 Z" fill="#fff" fill-rule="evenodd" clip-path="url(#h6)"/>
<ellipse cx="796" cy="345.3" rx="57.1" ry="30.3" transform="rotate(58.4 796 345.3)" fill="none" stroke="#000" stroke-width="1.75"/>
<ellipse cx="796" cy="345.3" rx="50.1" ry="23.1" transform="rotate(58.4 796 345.3)" fill="none" stroke="#000" stroke-width="1.75"/>
<clipPath id="h7"><path d="M1103 992.3 L1529.5 731.3 L1007.5 -121.7 L581 139.3 Z"/></clipPath>
<path d="M871.97 614.43 A57.1 30.3 58.4 1 1 812.13 517.17 A57.1 30.3 58.4 1 1 871.97 614.43 Z M868.3 608.47 A50.1 23.09 58.4 1 1 815.8 523.13 A50.1 23.09 58.4 1 1 868.3 608.47 Z" fill="#fff" fill-rule="evenodd" clip-path="url(#h7)"/>
<ellipse cx="842" cy="565.8" rx="57.1" ry="30.3" transform="rotate(58.4 842 565.8)" fill="none" stroke="#000" stroke-width="1.75"/>
<ellipse cx="842" cy="565.8" rx="50.1" ry="23.1" transform="rotate(58.4 842 565.8)" fill="none" stroke="#000" stroke-width="1.75"/>
<clipPath id="h8"><path d="M606.5 1104.5 L1033 843.5 L511 -9.5 L84.5 251.5 Z"/></clipPath>
<path d="M375.42 726.63 A57.1 30.3 58.4 1 1 315.58 629.37 A57.1 30.3 58.4 1 1 375.42 726.63 Z M371.75 720.67 A50.1 23.09 58.4 1 1 319.25 635.33 A50.1 23.09 58.4 1 1 371.75 720.67 Z" fill="#fff" fill-rule="evenodd" clip-path="url(#h8)"/>
<ellipse cx="345.5" cy="678" rx="57.1" ry="30.3" transform="rotate(58.4 345.5 678)" fill="none" stroke="#000" stroke-width="1.75"/>
<ellipse cx="345.5" cy="678" rx="50.1" ry="23.1" transform="rotate(58.4 345.5 678)" fill="none" stroke="#000" stroke-width="1.75"/>
<clipPath id="h9"><path d="M11.3 940.3 L11.3 1440.3 L1011.3 1440.3 L1011.3 940.3 Z"/></clipPath>
<path d="M568.4 940.3 A57.1 30.3 0 1 1 454.2 940.3 A57.1 30.3 0 1 1 568.4 940.3 Z M561.4 940.3 A50.1 23.09 0 1 1 461.2 940.3 A50.1 23.09 0 1 1 561.4 940.3 Z" fill="#fff" fill-rule="evenodd" clip-path="url(#h9)"/>
<ellipse cx="511.3" cy="940.3" rx="57.1" ry="30.3" transform="rotate(0 511.3 940.3)" fill="none" stroke="#000" stroke-width="1.75"/>
<ellipse cx="511.3" cy="940.3" rx="50.1" ry="23.1" transform="rotate(0 511.3 940.3)" fill="none" stroke="#000" stroke-width="1.75"/>
<clipPath id="h10"><path d="M138 867.4 L138 1367.4 L1138 1367.4 L1138 867.4 Z"/></clipPath>
<path d="M695.1 867.4 A57.1 30.3 0 1 1 580.9 867.4 A57.1 30.3 0 1 1 695.1 867.4 Z M688.1 867.4 A50.1 23.09 0 1 1 587.9 867.4 A50.1 23.09 0 1 1 688.1 867.4 Z" fill="#fff" fill-rule="evenodd" clip-path="url(#h10)"/>
<ellipse cx="638" cy="867.4" rx="57.1" ry="30.3" transform="rotate(0 638 867.4)" fill="none" stroke="#000" stroke-width="1.75"/>
<ellipse cx="638" cy="867.4" rx="50.1" ry="23.1" transform="rotate(0 638 867.4)" fill="none" stroke="#000" stroke-width="1.75"/>
<ellipse cx="960.9" cy="1095.8" rx="57.1" ry="30.3" transform="rotate(-59.9 960.9 1095.8)" fill="none" stroke="#000" stroke-width="1.75"/>
<ellipse cx="960.9" cy="1095.8" rx="51.5" ry="24.5" transform="rotate(-59.9 960.9 1095.8)" fill="none" stroke="#000" stroke-width="1.75"/>
<ellipse cx="1246" cy="1028.5" rx="58.5" ry="31.5" transform="rotate(-58 1246 1028.5)" fill="none" stroke="#000" stroke-width="1.75"/>
<ellipse cx="1246" cy="1028.5" rx="52.9" ry="25.7" transform="rotate(-58 1246 1028.5)" fill="none" stroke="#000" stroke-width="1.75"/>
<text x="0" y="0" transform="matrix(0.1923 0 0 0.2000 455.6 225.5)" font-family="Liberation Sans" font-size="200" font-weight="normal" stroke="#000" stroke-width="2.5" stroke-linejoin="round">2</text>
<text x="0" y="0" transform="matrix(0.1902 0 0 0.1937 141.1 460.9)" font-family="Liberation Sans" font-size="200" font-weight="normal" stroke="#000" stroke-width="2.6" stroke-linejoin="round">6</text>
<text x="0" y="0" transform="matrix(0.1786 0 0 0.1993 202 646.2)" font-family="Liberation Sans" font-size="200" font-weight="normal" stroke="#000" stroke-width="2.6" stroke-linejoin="round">7</text>
<text x="0" y="0" transform="matrix(0.1789 0 0 0.1875 276.6 879.6)" font-family="Liberation Sans" font-size="200" font-weight="normal" stroke="#000" stroke-width="2.7" stroke-linejoin="round">5</text>
<text x="0" y="0" transform="matrix(0.1825 0 0 0.1993 732.1 198.8)" font-family="Liberation Sans" font-size="200" font-weight="normal" stroke="#000" stroke-width="2.6" stroke-linejoin="round">4</text>
<text x="0" y="0" transform="matrix(0.1648 0 0 0.1902 892.9 421.2)" font-family="Liberation Sans" font-size="200" font-weight="normal" stroke="#000" stroke-width="2.8" stroke-linejoin="round">7</text>
<text x="0" y="0" transform="matrix(0.1770 0 0 0.2007 1015.6 648.2)" font-family="Liberation Sans" font-size="200" font-weight="normal" stroke="#000" stroke-width="2.6" stroke-linejoin="round">4</text>
<text x="0" y="0" transform="matrix(0.1745 0 0 0.1775 1010.6 708.3)" font-family="Liberation Sans" font-size="200" font-weight="normal" stroke="#000" stroke-width="2.8" stroke-linejoin="round">3</text>
<text x="0" y="0" transform="matrix(0.2264 0 0 0.1993 741.5 844.7)" font-family="Liberation Sans" font-size="200" font-weight="normal" stroke="#000" stroke-width="2.3" stroke-linejoin="round">7</text>
<text x="0" y="0" transform="matrix(0.1582 0 0 0.1942 377.1 902.4)" font-family="Liberation Sans" font-size="200" font-weight="normal" stroke="#000" stroke-width="2.8" stroke-linejoin="round">7</text>
<text x="0" y="0" transform="matrix(0.1890 0 0 0.1986 785.8 968.4)" font-family="Liberation Sans" font-size="200" font-weight="normal" stroke="#000" stroke-width="2.6" stroke-linejoin="round">4</text>
<text x="0" y="0" transform="matrix(0.1970 0 0 0.2116 311.3 1071.6)" font-family="Liberation Sans" font-size="200" font-weight="normal" stroke="#000" stroke-width="2.4" stroke-linejoin="round">4</text>
<text x="0" y="0" transform="matrix(0.2149 0 0 0.1901 1078.9 1025.4)" font-family="Liberation Sans" font-size="200" font-weight="normal" stroke="#000" stroke-width="2.5" stroke-linejoin="round">8</text>
<text x="0" y="0" transform="matrix(0.1824 0 0 0.1957 890 1212.5)" font-family="Liberation Sans" font-size="200" font-weight="normal" stroke="#000" stroke-width="2.6" stroke-linejoin="round">7</text>
<text x="0" y="0" transform="matrix(0.1978 0 0 0.1957 1175.5 1147.3)" font-family="Liberation Sans" font-size="200" font-weight="normal" stroke="#000" stroke-width="2.5" stroke-linejoin="round">7</text>
<text x="0" y="0" transform="matrix(0.2075 0 0 0.1901 1286.8 1268.4)" font-family="Liberation Sans" font-size="200" font-weight="normal" stroke="#000" stroke-width="2.5" stroke-linejoin="round">9</text>
<path d="M473 233.8 L556 438.7" fill="none" stroke="#000" stroke-width="1.4" stroke-linejoin="miter" />
<circle cx="556" cy="438.7" r="2.0" fill="#000"/>
<path d="M872 228.8 L758.8 195 L788 301.2" fill="none" stroke="#000" stroke-width="1.4" stroke-linejoin="miter" />
<circle cx="872" cy="228.8" r="2.0" fill="#000"/>
<circle cx="788" cy="299.6" r="2.0" fill="#000"/>
<path d="M825 389.5 L887 410 L846.4 528.6" fill="none" stroke="#000" stroke-width="1.4" stroke-linejoin="miter" />
<circle cx="824.5" cy="389.5" r="2.0" fill="#000"/>
<circle cx="846.4" cy="528.6" r="2.0" fill="#000"/>
<path d="M998.2 527.3 L1005.7 624.3 L873.9 605.4" fill="none" stroke="#000" stroke-width="1.4" stroke-linejoin="miter" />
<circle cx="998.2" cy="527.3" r="2.0" fill="#000"/>
<circle cx="873.6" cy="605.5" r="2.0" fill="#000"/>
<path d="M1000.7 697.4 L900.1 751.4" fill="none" stroke="#000" stroke-width="1.4" stroke-linejoin="miter" />
<circle cx="900.1" cy="751.4" r="2.4" fill="#000"/>
<path d="M225 637.5 L309 652" fill="none" stroke="#000" stroke-width="1.4" stroke-linejoin="miter" />
<circle cx="309" cy="652" r="2.0" fill="#000"/>
<path d="M258.8 770.8 L290 842 L363 727.5" fill="none" stroke="#000" stroke-width="1.4" stroke-linejoin="miter" />
<circle cx="258.8" cy="770.8" r="2.0" fill="#000"/>
<circle cx="362.8" cy="727.6" r="2.0" fill="#000"/>
<path d="M743 832.7 L688 856.7" fill="none" stroke="#000" stroke-width="1.4" stroke-linejoin="miter" />
<circle cx="687.6" cy="857.1" r="2.0" fill="#000"/>
<path d="M403.4 899 L468 924.4" fill="none" stroke="#000" stroke-width="1.4" stroke-linejoin="miter" />
<circle cx="467.1" cy="924.5" r="2.0" fill="#000"/>
<path d="M667.5 888.7 L773 961.6 L687 1022.8" fill="none" stroke="#000" stroke-width="1.4" stroke-linejoin="miter" />
<circle cx="667.5" cy="889.6" r="2.0" fill="#000"/>
<circle cx="687" cy="1022.8" r="2.0" fill="#000"/>
<path d="M478.4 960.9 L342.2 1049.2 L464.6 1099" fill="none" stroke="#000" stroke-width="1.4" stroke-linejoin="miter" />
<circle cx="476.8" cy="961.4" r="2.0" fill="#000"/>
<circle cx="464.6" cy="1099" r="2.0" fill="#000"/>
<path d="M995.3 1079.8 L1083 1039.3 L1095.6 1137.4" fill="none" stroke="#000" stroke-width="1.4" stroke-linejoin="miter" />
<circle cx="995.3" cy="1079.8" r="2.0" fill="#000"/>
<circle cx="1095.6" cy="1137.4" r="2.0" fill="#000"/>
<path d="M914.3 1190 L939 1141.9" fill="none" stroke="#000" stroke-width="1.4" stroke-linejoin="miter" />
<circle cx="939" cy="1141.9" r="2.0" fill="#000"/>
<path d="M1200 1122.5 L1224.8 1075.3" fill="none" stroke="#000" stroke-width="1.4" stroke-linejoin="miter" />
<circle cx="1224.8" cy="1075.3" r="2.0" fill="#000"/>
<path d="M1249.5 1073 L1299 1226 L1339.5 1149.5" fill="none" stroke="#000" stroke-width="1.4" stroke-linejoin="miter" />
<circle cx="1249.5" cy="1073" r="2.0" fill="#000"/>
<circle cx="1339.5" cy="1149.5" r="2.0" fill="#000"/>
<path d="M158.8 470 L201.5 539.3" fill="none" stroke="#000" stroke-width="1.4" stroke-linejoin="miter" />
<text x="0" y="0" transform="matrix(0.2109 0 0 0.2275 97.3 62.3)" font-family="Liberation Sans" font-size="200" font-weight="normal" stroke="#000" stroke-width="2.7" stroke-linejoin="round">O</text>
<text x="0" y="0" transform="matrix(0.2360 0 0 0.2341 143.3 62.8)" font-family="Liberation Sans" font-size="200" font-weight="normal" stroke="#000" stroke-width="2.6" stroke-linejoin="round">L</text>
<text x="0" y="0" transform="matrix(0.2271 0 0 0.2341 183.5 62.8)" font-family="Liberation Sans" font-size="200" font-weight="normal" stroke="#000" stroke-width="2.6" stroke-linejoin="round">B</text>
<text x="0" y="0" transform="matrix(0.2427 0 0 0.2341 214.1 62.8)" font-family="Liberation Sans" font-size="200" font-weight="normal" stroke="#000" stroke-width="2.5" stroke-linejoin="round">L</text>
<text x="0" y="0" transform="matrix(0.2153 0 0 0.2275 241 62.3)" font-family="Liberation Sans" font-size="200" font-weight="normal" stroke="#000" stroke-width="2.7" stroke-linejoin="round">O</text>
<text x="0" y="0" transform="matrix(0.2171 0 0 0.2275 274.2 62.3)" font-family="Liberation Sans" font-size="200" font-weight="normal" stroke="#000" stroke-width="2.7" stroke-linejoin="round">C</text>
<text x="0" y="0" transform="matrix(0.2391 0 0 0.2341 302.7 62.8)" font-family="Liberation Sans" font-size="200" font-weight="normal" stroke="#000" stroke-width="2.5" stroke-linejoin="round">K</text>
<text x="0" y="0" transform="matrix(0.2186 0 0 0.2341 350.1 62.8)" font-family="Liberation Sans" font-size="200" font-weight="normal" stroke="#000" stroke-width="2.7" stroke-linejoin="round">T</text>
<text x="0" y="0" transform="matrix(0.2440 0 0 0.2341 374 62.8)" font-family="Liberation Sans" font-size="200" font-weight="normal" stroke="#000" stroke-width="2.5" stroke-linejoin="round">Y</text>
<text x="0" y="0" transform="matrix(0.2318 0 0 0.2341 405.9 62.8)" font-family="Liberation Sans" font-size="200" font-weight="normal" stroke="#000" stroke-width="2.6" stroke-linejoin="round">P</text>
<text x="0" y="0" transform="matrix(0.2018 0 0 0.2341 436 62.8)" font-family="Liberation Sans" font-size="200" font-weight="normal" stroke="#000" stroke-width="2.8" stroke-linejoin="round">E</text>
<rect x="464.6" y="45.4" width="21.4" height="2.6" fill="#000"/>
<rect x="134.6" y="30.5" width="4.6" height="32.3" fill="#000"/>
<rect x="132.7" y="30.5" width="8.5" height="2.4" fill="#000"/>
<rect x="132.7" y="60.4" width="8.5" height="2.4" fill="#000"/>
<rect x="490.8" y="30.5" width="4.6" height="32.3" fill="#000"/>
<rect x="488.7" y="30.5" width="8.9" height="2.4" fill="#000"/>
<rect x="488.7" y="60.4" width="8.9" height="2.4" fill="#000"/>
<text x="0" y="0" transform="matrix(0.2795 0 0 0.2374 62.3 114.7)" font-family="Liberation Sans" font-size="200" font-weight="normal" stroke="#000" stroke-width="3.5" stroke-linejoin="round">（</text>
<text x="0" y="0" transform="matrix(0.2312 0 0 0.2293 115.6 118.3)" font-family="Liberation Sans" font-size="200" font-weight="normal" stroke="#000" stroke-width="3.9" stroke-linejoin="round">移</text>
<text x="0" y="0" transform="matrix(0.2300 0 0 0.2269 163.6 117.5)" font-family="Liberation Sans" font-size="200" font-weight="normal" stroke="#000" stroke-width="3.9" stroke-linejoin="round">動</text>
<text x="0" y="0" transform="matrix(0.2197 0 0 0.2268 207.4 116.2)" font-family="Liberation Sans" font-size="200" font-weight="normal" stroke="#000" stroke-width="4" stroke-linejoin="round">タ</text>
<text x="0" y="0" transform="matrix(0.2252 0 0 0.2301 246.4 116)" font-family="Liberation Sans" font-size="200" font-weight="normal" stroke="#000" stroke-width="4" stroke-linejoin="round">イ</text>
<text x="0" y="0" transform="matrix(0.1845 0 0 0.2398 289.7 118.5)" font-family="Liberation Sans" font-size="200" font-weight="normal" stroke="#000" stroke-width="4.2" stroke-linejoin="round">プ</text>
<text x="0" y="0" transform="matrix(0.2182 0 0 0.2432 342.9 116.3)" font-family="Liberation Sans" font-size="200" font-weight="normal" stroke="#000" stroke-width="3.9" stroke-linejoin="round">エ</text>
<text x="0" y="0" transform="matrix(0.2169 0 0 0.2374 386 117.2)" font-family="Liberation Sans" font-size="200" font-weight="normal" stroke="#000" stroke-width="4" stroke-linejoin="round">レ</text>
<text x="0" y="0" transform="matrix(0.2014 0 0 0.2389 426.8 116.7)" font-family="Liberation Sans" font-size="200" font-weight="normal" stroke="#000" stroke-width="4.1" stroke-linejoin="round">メ</text>
<text x="0" y="0" transform="matrix(0.2278 0 0 0.2342 459.2 117.1)" font-family="Liberation Sans" font-size="200" font-weight="normal" stroke="#000" stroke-width="3.9" stroke-linejoin="round">ン</text>
<text x="0" y="0" transform="matrix(0.2848 0 0 0.2234 488.9 115.4)" font-family="Liberation Sans" font-size="200" font-weight="normal" stroke="#000" stroke-width="3.5" stroke-linejoin="round">ト</text>
<text x="0" y="0" transform="matrix(0.2285 0 0 0.2250 537.5 116.6)" font-family="Liberation Sans" font-size="200" font-weight="normal" stroke="#000" stroke-width="4" stroke-linejoin="round">側</text>
<text x="0" y="0" transform="matrix(0.2291 0 0 0.2293 598.9 115.7)" font-family="Liberation Sans" font-size="200" font-weight="normal" stroke="#000" stroke-width="3.9" stroke-linejoin="round">サ</text>
<text x="0" y="0" transform="matrix(0.2134 0 0 0.2075 649.2 118.1)" font-family="Liberation Sans" font-size="200" font-weight="normal" stroke="#000" stroke-width="4.3" stroke-linejoin="round">ー</text>
<text x="0" y="0" transform="matrix(0.2176 0 0 0.2406 693.7 118)" font-family="Liberation Sans" font-size="200" font-weight="normal" stroke="#000" stroke-width="3.9" stroke-linejoin="round">モ</text>
<text x="0" y="0" transform="matrix(0.2270 0 0 0.2111 739.1 117)" font-family="Liberation Sans" font-size="200" font-weight="normal" stroke="#000" stroke-width="4.1" stroke-linejoin="round">内</text>
<text x="0" y="0" transform="matrix(0.2287 0 0 0.2254 787.1 118.2)" font-family="Liberation Sans" font-size="200" font-weight="normal" stroke="#000" stroke-width="4" stroke-linejoin="round">蔵</text>
<text x="0" y="0" transform="matrix(0.2222 0 0 0.2168 836.3 117.5)" font-family="Liberation Sans" font-size="200" font-weight="normal" stroke="#000" stroke-width="4.1" stroke-linejoin="round">型</text>
<text x="0" y="0" transform="matrix(0.3077 0 0 0.2374 876.5 114.7)" font-family="Liberation Sans" font-size="200" font-weight="normal" stroke="#000" stroke-width="3.3" stroke-linejoin="round">）</text>
</svg>
</body></html>
